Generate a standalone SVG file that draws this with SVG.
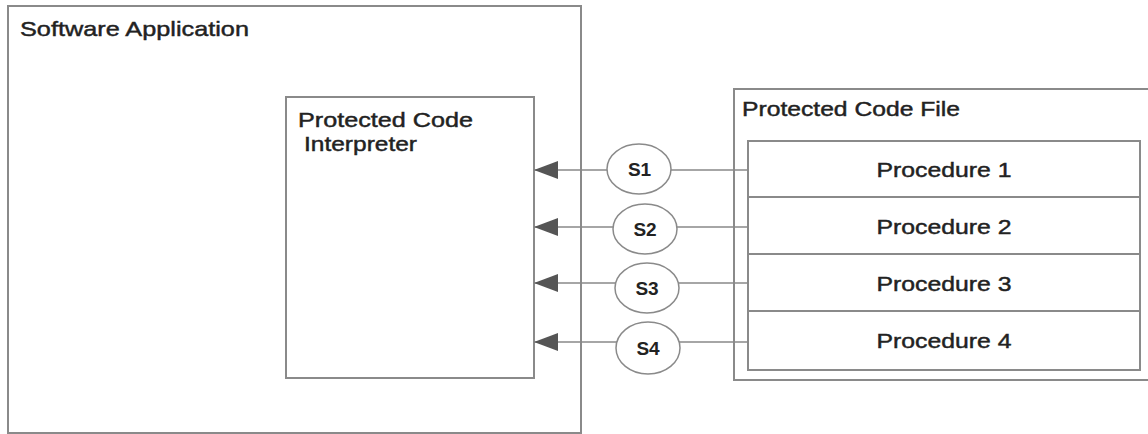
<svg xmlns="http://www.w3.org/2000/svg" width="1148" height="434" viewBox="0 0 1148 434">
<style>
.box{fill:none;stroke:#8a8a8a;stroke-width:2}
.lbl{font-family:"Liberation Sans",Arial,sans-serif;font-size:21px;fill:#222;stroke:#222;stroke-width:0.45}
.proc{font-family:"Liberation Sans",Arial,sans-serif;font-size:21px;fill:#222;stroke:#222;stroke-width:0.45;text-anchor:middle}
.sig{font-family:"Liberation Sans",Arial,sans-serif;font-size:19px;font-weight:bold;fill:#222;text-anchor:middle}
.ell{fill:#fff;stroke:#8a8a8a;stroke-width:1.5}
.conn{stroke:#888;stroke-width:1.5;fill:none}
</style>
<defs>
<marker id="arr" markerUnits="userSpaceOnUse" markerWidth="24" markerHeight="18" refX="24" refY="9" orient="auto">
<path d="M0,0 L24,9 L0,18 z" fill="#555"/>
</marker>
</defs>
<rect width="1148" height="434" fill="#fff"/>
<g id="software-application">
<rect class="box" x="8" y="6" width="573" height="427"/>
<text class="lbl" x="20" y="36" textLength="229" lengthAdjust="spacingAndGlyphs">Software Application</text>
</g>
<g id="interpreter">
<rect class="box" x="286" y="97" width="248" height="281"/>
<text class="lbl" x="298" y="127" textLength="175" lengthAdjust="spacingAndGlyphs">Protected Code</text>
<text class="lbl" x="304" y="151" textLength="113" lengthAdjust="spacingAndGlyphs">Interpreter</text>
</g>
<g id="protected-code-file">
<rect class="box" x="734" y="89" width="420" height="291"/>
<text class="lbl" x="742" y="116" textLength="218" lengthAdjust="spacingAndGlyphs">Protected Code File</text>
</g>
<g id="procedures">
<rect class="box" x="748" y="141" width="392" height="229"/>
<line class="box" x1="748" y1="197" x2="1140" y2="197"/>
<line class="box" x1="748" y1="254" x2="1140" y2="254"/>
<line class="box" x1="748" y1="311" x2="1140" y2="311"/>
<text class="proc" x="944" y="177" textLength="135" lengthAdjust="spacingAndGlyphs">Procedure 1</text>
<text class="proc" x="944" y="234" textLength="135" lengthAdjust="spacingAndGlyphs">Procedure 2</text>
<text class="proc" x="944" y="291" textLength="135" lengthAdjust="spacingAndGlyphs">Procedure 3</text>
<text class="proc" x="944" y="348" textLength="135" lengthAdjust="spacingAndGlyphs">Procedure 4</text>
</g>
<g id="connectors">
<line class="conn" x1="748" y1="170" x2="534" y2="170" marker-end="url(#arr)"/>
<line class="conn" x1="748" y1="227" x2="534" y2="227" marker-end="url(#arr)"/>
<line class="conn" x1="748" y1="283" x2="534" y2="283" marker-end="url(#arr)"/>
<line class="conn" x1="748" y1="342" x2="534" y2="342" marker-end="url(#arr)"/>
</g>
<g id="s1">
<ellipse class="ell" cx="639" cy="169" rx="32" ry="25"/>
<text class="sig" x="639.5" y="176">S1</text>
</g>
<g id="s2">
<ellipse class="ell" cx="645" cy="229" rx="32" ry="25"/>
<text class="sig" x="645" y="236">S2</text>
</g>
<g id="s3">
<ellipse class="ell" cx="647" cy="288" rx="32" ry="25"/>
<text class="sig" x="647" y="295">S3</text>
</g>
<g id="s4">
<ellipse class="ell" cx="648" cy="348" rx="32" ry="26"/>
<text class="sig" x="648" y="355">S4</text>
</g>
</svg>
